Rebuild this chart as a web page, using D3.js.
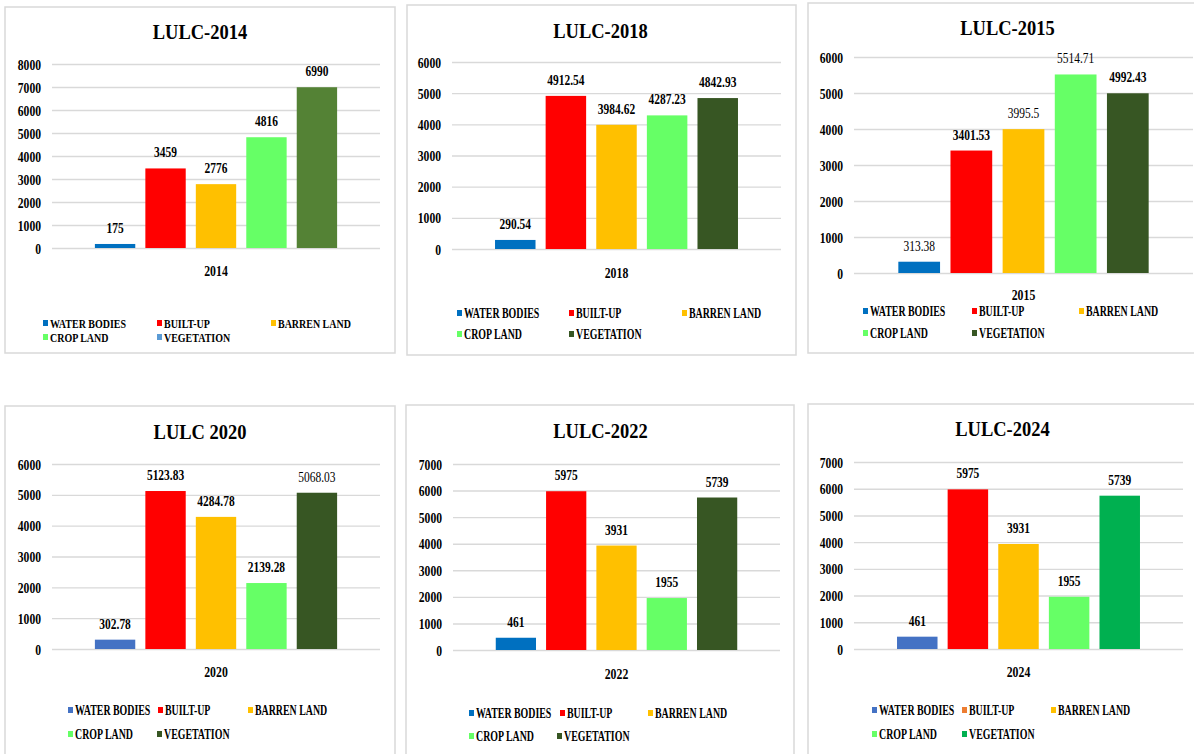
<!DOCTYPE html>
<html>
<head>
<meta charset="utf-8">
<script src="https://cdn.jsdelivr.net/npm/d3@7"></script>
<style>
  body { margin: 0; background: #fff; }
  svg text { font-family: "Liberation Serif", "Times New Roman", serif; }
</style>
</head>
<body>
<svg id="chart" width="1194" height="754"></svg>
<script>
// land use classes, same order in every panel
const classes = ["WATER BODIES", "BUILT-UP", "BARREN LAND", "CROP LAND", "VEGETATION"];

const titles = ["LULC-2014", "LULC-2018", "LULC-2015", "LULC 2020", "LULC-2022", "LULC-2024"];
const years = ["2014", "2018", "2015", "2020", "2022", "2024"];
const yMax = [8000, 6000, 6000, 6000, 7000, 7000];

const values2014 = [175, 3459, 2776, 4816, 6990];
const values2018 = [290.54, 4912.54, 3984.62, 4287.23, 4842.93];
const values2015 = [313.38, 3401.53, 3995.5, 5514.71, 4992.43];
const values2020 = [302.78, 5123.83, 4284.78, 2139.28, 5068.03];
const values2022 = [461, 5975, 3931, 1955, 5739];
const values2024 = [461, 5975, 3931, 1955, 5739];

const allValues = [values2014, values2018, values2015, values2020, values2022, values2024];

// bar colours and legend marker colours (legends don't always match the bars)
const barColors = [
  ["#0070C0", "#FF0000", "#FFC000", "#66FF66", "#548235"],
  ["#0070C0", "#FF0000", "#FFC000", "#66FF66", "#375623"],
  ["#0070C0", "#FF0000", "#FFC000", "#66FF66", "#375623"],
  ["#4472C4", "#FF0000", "#FFC000", "#66FF66", "#375623"],
  ["#0070C0", "#FF0000", "#FFC000", "#66FF66", "#375623"],
  ["#4472C4", "#FF0000", "#FFC000", "#66FF66", "#00B050"]
];
const legendColors = [
  ["#0070C0", "#FF0000", "#FFC000", "#66FF66", "#5B9BD5"],
  barColors[1], barColors[2], barColors[3], barColors[4],
  ["#4472C4", "#ED7D31", "#FFC000", "#66FF66", "#00B050"]
];

// panel layout: box = frame, plot = [left, right, top, bottom]
const layout = [
  { box: [5, 7, 390, 346], plot: [52, 380, 64, 248], titleY: 39, catY: 276, legY: [323, 337], legX: [43, 157, 271], legFont: 13.5, legSx: 0.74 },
  { box: [407, 5, 389, 350], plot: [452, 781, 62, 249], titleY: 38, catY: 278, legY: [313, 334], legX: [457, 569, 682] },
  { box: [808, 3, 400, 350], plot: [854, 1193, 57, 273], titleY: 35, catY: 300, legY: [311, 333], legX: [863, 972, 1079] },
  { box: [5, 406, 390, 360], plot: [52, 380, 464, 649], titleY: 439, catY: 677, legY: [710, 734], legX: [68, 158, 248], legX2: [68, 157] },
  { box: [406, 405, 388, 360], plot: [453, 780, 464, 650], titleY: 438, catY: 679, legY: [713, 736], legX: [469, 560, 648], legX2: [469, 557] },
  { box: [808, 404, 400, 360], plot: [854, 1183, 462, 649], titleY: 436, catY: 677, legY: [710, 734], legX: [872, 962, 1051], legX2: [872, 962] }
];

// labels that look regular weight in the original
const lightLabels = { 2: [0, 2, 3], 3: [4] };

const svg = d3.select("#chart");
const serif = '"Liberation Serif", "Times New Roman", serif';

function ctext(sel, x, y, str, size, sx, anchor, weight) {
  return sel.append("text")
    .attr("transform", `translate(${x},${y}) scale(${sx},1)`)
    .attr("text-anchor", anchor)
    .style("font-family", serif)
    .style("font-size", size + "px")
    .style("font-weight", weight || "bold")
    .attr("fill", "#000")
    .text(str);
}

layout.forEach((L, p) => {
  const g = svg.append("g");
  const values = allValues[p];
  const [left, right, top, bottom] = L.plot;

  g.append("rect")
    .attr("x", L.box[0]).attr("y", L.box[1])
    .attr("width", L.box[2]).attr("height", L.box[3])
    .attr("fill", "#fff")
    .attr("stroke", "#d9d9d9")
    .attr("stroke-width", 1.5);

  ctext(g, (left + right) / 2 - 16, L.titleY, titles[p], 21, 0.88, "middle");

  const y = d3.scaleLinear().domain([0, yMax[p]]).range([bottom, top]);
  const x = d3.scaleBand().domain(classes).range([left, right])
    .paddingInner(0.2).paddingOuter(0.85);

  // gridlines + tick labels
  const yAxis = d3.axisLeft(y).ticks(yMax[p] / 1000).tickSize(-(right - left)).tickFormat(d3.format("d"));
  const ax = g.append("g").attr("transform", `translate(${left},0)`).call(yAxis);
  ax.attr("font-family", null).attr("font-size", null);
  ax.select(".domain").remove();
  ax.selectAll("line").attr("stroke", "#d9d9d9").attr("stroke-width", 1.4);
  ax.selectAll("text")
    .attr("x", null).attr("dy", null)
    .attr("transform", "translate(-11,5) scale(0.75,1)")
    .style("font-family", serif)
    .style("font-size", "15.5px").style("font-weight", "bold")
    .attr("fill", "#000");

  // bars
  g.selectAll(".bar").data(values).join("rect")
    .attr("class", "bar")
    .attr("x", (d, i) => x(classes[i]))
    .attr("y", d => y(d))
    .attr("width", x.bandwidth())
    .attr("height", d => bottom - y(d))
    .attr("fill", (d, i) => barColors[p][i]);

  // value labels
  const light = lightLabels[p] || [];
  values.forEach((v, i) => {
    ctext(g, x(classes[i]) + x.bandwidth() / 2, y(v) - 11, String(v), 15.5, 0.74, "middle",
      light.includes(i) ? "normal" : "bold");
  });

  ctext(g, (left + right) / 2, L.catY, years[p], 15.5, 0.76, "middle");

  // legend
  const legX2 = L.legX2 || L.legX.slice(0, 2);
  classes.forEach((c, i) => {
    const row = i < 3 ? 0 : 1;
    const lx = row === 0 ? L.legX[i] : legX2[i - 3];
    const ly = L.legY[row];
    g.append("rect")
      .attr("x", lx).attr("y", ly - 3)
      .attr("width", 5).attr("height", 6)
      .attr("fill", legendColors[p][i]);
    ctext(g, lx + 7, ly + 5, c, L.legFont || 15, L.legSx || 0.66, "start");
  });
});
</script>
</body>
</html>
